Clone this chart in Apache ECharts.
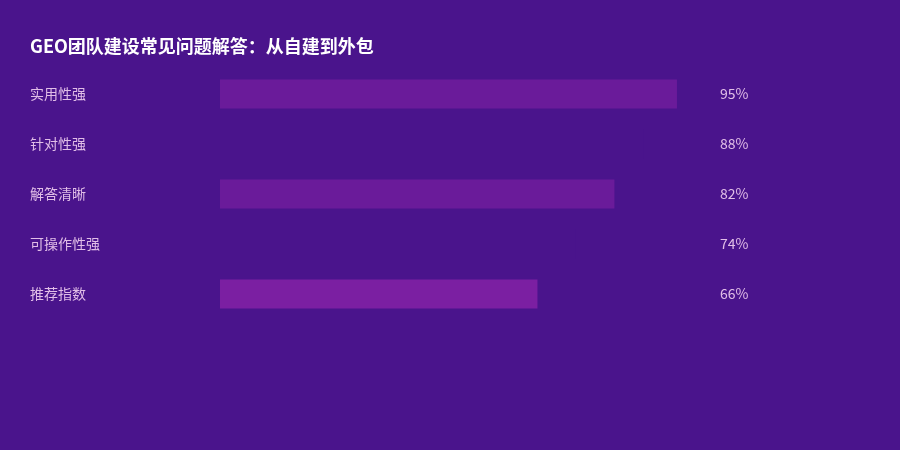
<!DOCTYPE html>
<html><head><meta charset="utf-8">
<script src="https://cdn.jsdelivr.net/npm/echarts@6/dist/echarts.min.js"></script>
<style>html,body{margin:0;padding:0;background:#4a148c}#c{width:900px;height:450px}</style>
</head><body><div id="c"></div>
<script>
var categories = ['实用性强','针对性强','解答清晰','可操作性强','推荐指数'];
var values = [95, 88, 82, 74, 66];
var barColors = ['#6a1b9a','#4a148c','#6a1b9a','#4a148c','#7b1fa2'];
var chart = echarts.init(document.getElementById('c'));
chart.setOption({
  backgroundColor: '#4a148c',
  animation: false,
  title: {text: 'GEO团队建设常见问题解答：从自建到外包', left: 25, top: 32,
    textStyle: {color: '#ffffff', fontSize: 18, fontWeight: 'bold', fontFamily: 'Noto Sans CJK SC'}},
  grid: {left: 220, right: 199, top: 69, bottom: 131},
  xAxis: {type: 'value', min: 0, max: 100, show: false},
  yAxis: [{
    type: 'category', data: categories, inverse: true,
    axisLine: {show: false}, axisTick: {show: false}, splitLine: {show: false},
    axisLabel: {align: 'left', margin: 190, color: '#e1bee7', fontSize: 14, fontFamily: 'Noto Sans CJK SC'}
  }, {
    type: 'category', data: values.map(function(v){return v + '%';}), inverse: true, position: 'right',
    axisLine: {show: false}, axisTick: {show: false}, splitLine: {show: false},
    axisLabel: {align: 'left', margin: 19, color: '#e1bee7', fontSize: 14, fontFamily: 'Noto Sans CJK SC'}
  }],
  series: [{
    type: 'bar', barWidth: 29,
    data: values.map(function(v, i){return {value: v, itemStyle: {color: barColors[i]}};})
  }]
});
</script></body></html>
